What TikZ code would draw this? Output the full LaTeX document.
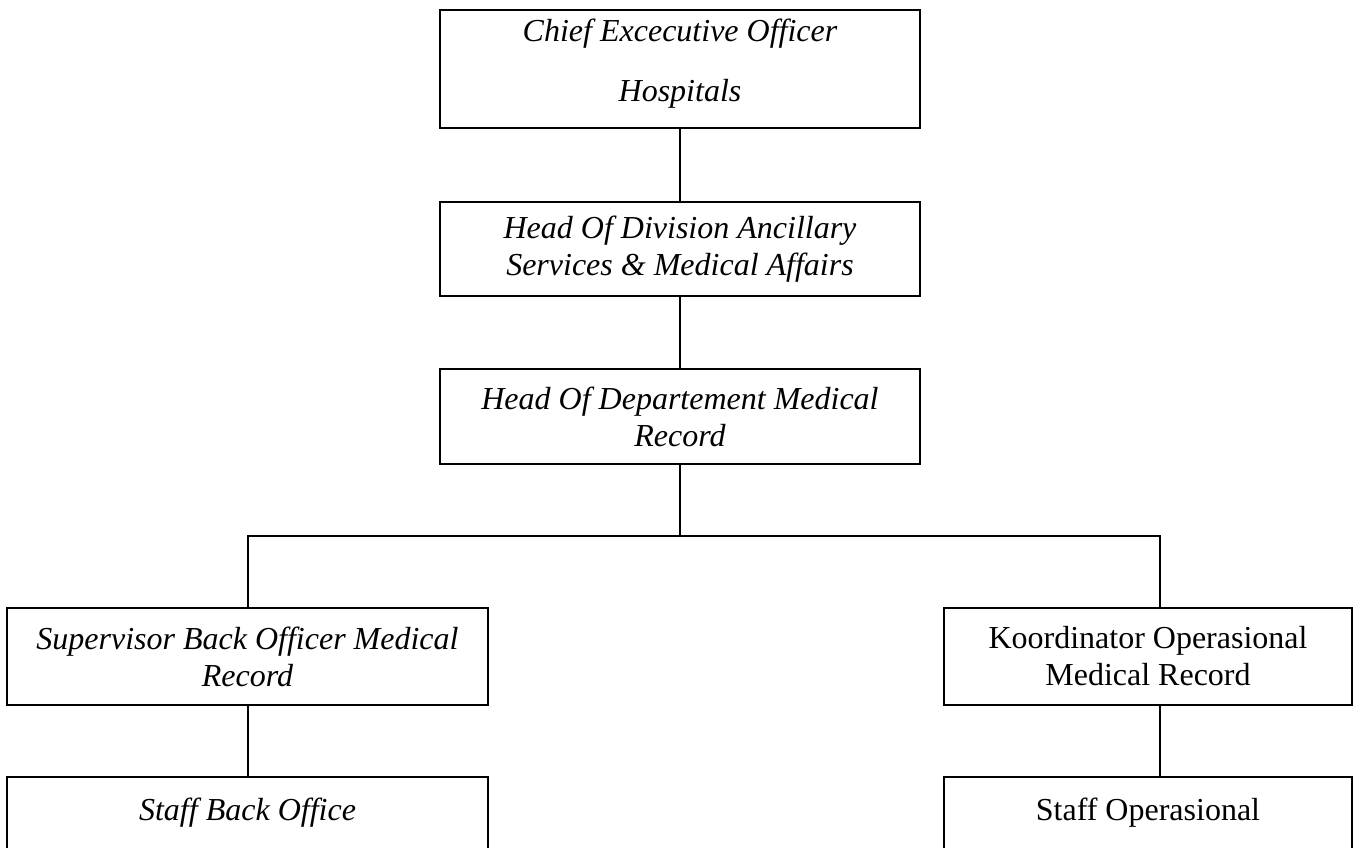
\documentclass[tikz,border=0pt]{standalone}
\usepackage{fontspec}
\setmainfont{Liberation Serif}
\begin{document}
\begin{tikzpicture}[x=0.75pt,y=-0.75pt,
  box/.style={draw=black, line width=1.5pt, rectangle, inner sep=0pt, align=center,
    font=\fontsize{24pt}{27.75pt}\selectfont\itshape},
  boxup/.style={box, font=\fontsize{24pt}{27.75pt}\selectfont\upshape},
  conn/.style={draw=black, line width=1.5pt}]
\useasboundingbox (0,0) rectangle (1354,848);
\node[box, minimum width=360pt, minimum height=88.5pt] (ceo) at (680,69)
  {Chief Excecutive Officer\\[17.25pt] Hospitals\rule[-13.2pt]{0pt}{0pt}};
\node[box, minimum width=360pt, minimum height=70.5pt] (div) at (680,249)
  {Head Of Division Ancillary\\ Services \& Medical Affairs};
\node[box, minimum width=360pt, minimum height=71.25pt] (dept) at (680,416.5)
  {Head Of Departement Medical\\ Record};
\node[box, minimum width=360.75pt, minimum height=72.75pt] (sup) at (247.5,656.5)
  {Supervisor Back Officer Medical\\ Record};
\node[boxup, minimum width=306pt, minimum height=72.75pt] (koord) at (1148,656.5)
  {Koordinator Operasional\\ Medical Record};
\node[box, minimum width=360.75pt, minimum height=54pt] (sbo) at (247.5,812.5)
  {Staff Back Office};
\node[boxup, minimum width=306pt, minimum height=54pt] (sop) at (1148,812.5)
  {Staff Operasional};
\coordinate (jL) at (248,536);
\coordinate (jR) at (1160,536);
\draw[conn] (ceo.south) -- (div.north);
\draw[conn] (div.south) -- (dept.north);
\draw[conn] (dept.south) -- (dept.south |- jL);
\draw[conn] (jL |- sup.north) -- (jL) -- (jR) -- (jR |- koord.north);
\draw[conn] (sup.south) -- (sbo.north);
\draw[conn] (jR |- koord.south) -- (jR |- sop.north);
\end{tikzpicture}
\end{document}
